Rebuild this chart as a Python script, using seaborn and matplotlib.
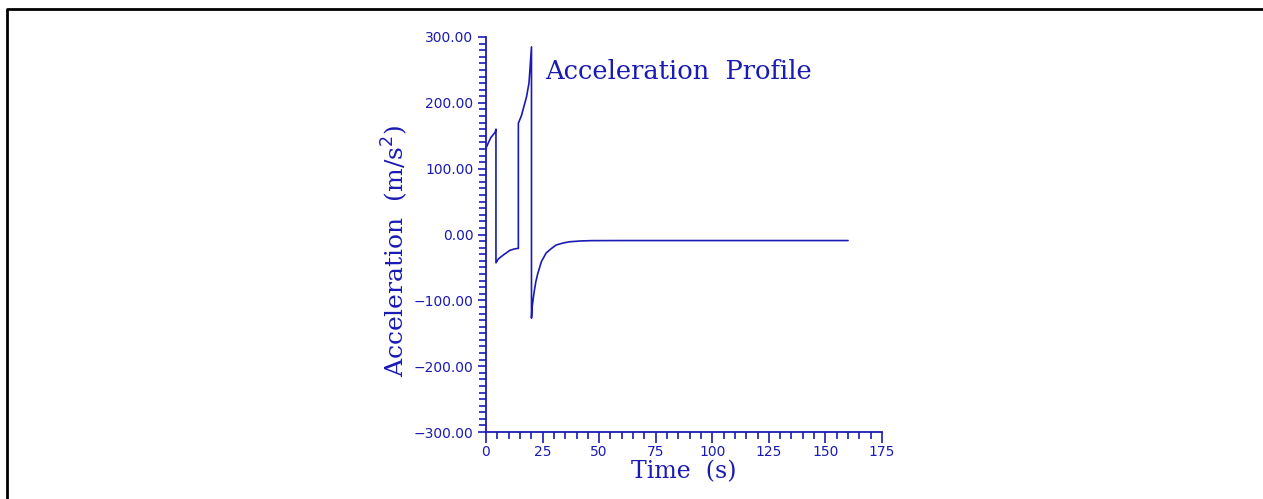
import matplotlib
matplotlib.use("Agg")
import matplotlib.pyplot as plt
import numpy as np
import pandas as pd
import seaborn as sns
from matplotlib.lines import Line2D
from matplotlib.ticker import MultipleLocator, FuncFormatter

# values
time_s = [0.0, 1.0, 2.1, 3.0, 4.0, 4.4,
          4.4, 5.5, 7.7, 10.6, 12.5, 14.3,
          14.3, 15.7, 17.9, 19.0, 20.1,
          20.1, 20.4, 21.2, 22.0, 22.9, 24.5, 26.6, 29.0, 31.0, 34.0, 37.0, 42.0, 47.0, 60.0, 100.0, 160.0]
accel = [131.0, 139.0, 147.0, 151.0, 155.0, 160.0,
         -43.0, -37.0, -31.0, -24.0, -22.0, -21.0,
         169.0, 181.0, 209.0, 230.0, 285.0,
         -127.0, -110.0, -89.0, -72.0, -59.0, -41.0, -28.0, -21.0, -16.0, -13.0, -11.0, -9.8, -9.3, -9.2, -9.2, -9.2]

x_ticks = [0, 25, 50, 75, 100, 125, 150, 175]
y_ticks = [-300, -200, -100, 0, 100, 200, 300]

blue = "#1a1ab4"

df = pd.DataFrame({"time": time_s, "accel": accel})

sns.set_style("white")
fig = plt.figure(figsize=(12.63, 4.99), dpi=100)
ax = fig.add_axes([486 / 1263, 1 - 432 / 499, 396 / 1263, 395 / 499])

sns.lineplot(data=df, x="time", y="accel", sort=False, estimator=None,
             color=blue, linewidth=1.2, ax=ax)

ax.set_xlim(0, 175)
ax.set_ylim(-300, 300)
ax.set_xticks(x_ticks)
ax.set_yticks(y_ticks)
ax.xaxis.set_minor_locator(MultipleLocator(5))
ax.yaxis.set_minor_locator(MultipleLocator(10))
ax.yaxis.set_major_formatter(FuncFormatter(lambda v, pos: f"{v:.2f}".replace("-", "\u2212")))

for side in ["top", "right"]:
    ax.spines[side].set_visible(False)
for side in ["left", "bottom"]:
    ax.spines[side].set_color(blue)
    ax.spines[side].set_linewidth(1.3)

ax.tick_params(axis="both", which="major", direction="out", color=blue, labelcolor=blue,
               labelsize=10, width=1.2)
ax.tick_params(axis="x", which="major", length=8, pad=1)
ax.tick_params(axis="y", which="major", length=6, pad=3)
ax.tick_params(axis="both", which="minor", direction="out", color=blue, length=5, width=1.2)
ax.tick_params(left=True, bottom=True, which="both")

serif = ["DejaVu Serif"]
ax.set_xlabel("Time  (s)", family=serif, fontsize=17, color=blue)
ax.xaxis.set_label_coords(0.5, -0.1, transform=ax.transAxes)
ax.xaxis.label.set_va("center")
ax.set_ylabel("Acceleration  (m/s$^2$)", family=serif, fontsize=18, color=blue)
ax.yaxis.set_label_coords(-0.23, 0.458)
ax.yaxis.label.set_va("center")
ax.text(26, 247, "Acceleration  Profile", family=serif,
        fontsize=18.5, color=blue, ha="left", va="center")

# frame lines along top and left of the picture
fig.add_artist(Line2D([7 / 1263, 7 / 1263, 1.0], [0.0, 1 - 9 / 499, 1 - 9 / 499],
                      transform=fig.transFigure, color="black", linewidth=2))

fig.savefig("out.png", dpi=100)
